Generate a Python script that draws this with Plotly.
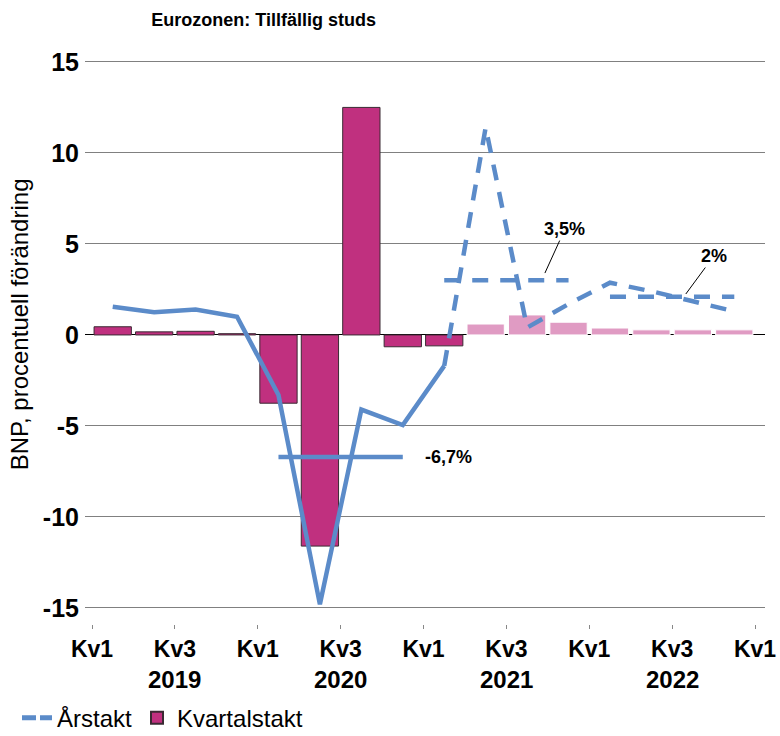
import plotly.graph_objects as go

# ---- data ----
quarters = ["2019Q1", "2019Q2", "2019Q3", "2019Q4",
            "2020Q1", "2020Q2", "2020Q3", "2020Q4",
            "2021Q1", "2021Q2", "2021Q3", "2021Q4",
            "2022Q1", "2022Q2", "2022Q3", "2022Q4"]
qoq_actual = [0.45, 0.17, 0.2, 0.07, -3.75, -11.6, 12.5, -0.65, -0.6]
qoq_forecast = [0.6, 1.1, 0.7, 0.38, 0.28, 0.28, 0.28]
yoy_actual = [1.55, 1.25, 1.4, 1.0, -3.3, -14.8, -4.1, -4.95, -1.7]
yoy_forecast = [-1.7, 11.4, 0.4, 1.7, 2.87, 2.4, 1.85, 1.3]
annual_levels = [-6.7, 3.0, 2.1]
annual_labels = ["-6,7%", "3,5%", "2%"]
annual_first_q = [4, 8, 12]
tick_vals = [-0.5, 1.5, 3.5, 5.5, 7.5, 9.5, 11.5, 13.5, 15.5]
tick_text = ["Kv1", "Kv3", "Kv1", "Kv3", "Kv1", "Kv3", "Kv1", "Kv3", "Kv1"]
years = ["2019", "2020", "2021", "2022"]
year_pos = [1.5, 5.5, 9.5, 13.5]

MAGENTA = "#C0307F"
PINK = "#E09BC3"
BLUE = "#5B8BC9"
DASH = "16px,12px"

idx = list(range(len(quarters)))
n_act = len(qoq_actual)

fig = go.Figure()

fig.add_trace(go.Bar(
    x=idx[:n_act], y=qoq_actual, width=0.9, name="Kvartalstakt",
    marker=dict(color=MAGENTA, line=dict(color="#3a2a33", width=1)),
    showlegend=False))
fig.add_trace(go.Bar(
    x=idx[n_act:], y=qoq_forecast, width=0.9, name="Kvartalstakt prognos",
    marker=dict(color=PINK, line=dict(color="#ffffff", width=1)),
    showlegend=False))

fig.add_trace(go.Scatter(
    x=idx[:len(yoy_actual)], y=yoy_actual, mode="lines",
    line=dict(color=BLUE, width=4.5), showlegend=False))
fig.add_trace(go.Scatter(
    x=idx[n_act - 1:], y=yoy_forecast, mode="lines",
    line=dict(color=BLUE, width=4.5, dash=DASH), showlegend=False))

for k, (lvl, q0) in enumerate(zip(annual_levels, annual_first_q)):
    fig.add_trace(go.Scatter(
        x=[q0, q0 + 3], y=[lvl, lvl], mode="lines",
        line=dict(color=BLUE, width=4.5, dash="solid" if k == 0 else DASH),
        showlegend=False))

# legend entries
fig.add_trace(go.Scatter(x=[None], y=[None], mode="lines", name="Årstakt",
                         line=dict(color=BLUE, width=4.5, dash="14px,4px")))
fig.add_trace(go.Bar(x=[None], y=[None], name="Kvartalstakt",
                     marker=dict(color=MAGENTA, line=dict(color="#3a2a33", width=1))))

annotations = []
annotations.append(dict(x=8.1, y=annual_levels[0], text="<b>" + annual_labels[0] + "</b>",
                        showarrow=False, font=dict(size=18, color="black"),
                        xanchor="center", yanchor="middle"))
annotations.append(dict(x=10.43, y=3.4, ax=20, ay=-44, text="<b>" + annual_labels[1] + "</b>",
                        showarrow=True, arrowhead=0, arrowwidth=1, arrowcolor="black",
                        standoff=0, font=dict(size=18, color="black")))
annotations.append(dict(x=13.83, y=2.25, ax=28, ay=-38, text="<b>" + annual_labels[2] + "</b>",
                        showarrow=True, arrowhead=0, arrowwidth=1, arrowcolor="black",
                        standoff=0, font=dict(size=18, color="black")))
for yr, xp in zip(years, year_pos):
    annotations.append(dict(x=xp, y=-0.098, xref="x", yref="paper", text="<b>" + yr + "</b>",
                            showarrow=False, font=dict(size=24, color="black"),
                            xanchor="center", yanchor="middle"))
annotations.append(dict(x=-0.097, y=0.525, xref="paper", yref="paper",
                        text="BNP, procentuell förändring", textangle=-90,
                        showarrow=False, font=dict(size=24, color="black"),
                        xanchor="center", yanchor="middle"))

fig.update_layout(
    width=780, height=736,
    margin=dict(l=85, r=15, t=53, b=112, autoexpand=False),
    paper_bgcolor="white", plot_bgcolor="white",
    font=dict(family="Liberation Sans, Arial, sans-serif", color="black"),
    title=dict(text="<b>Eurozonen: Tillfällig studs</b>", x=0.338, xanchor="center",
               y=1 - 20 / 736, yanchor="middle",
               font=dict(family="Liberation Sans, Arial, sans-serif",
                         size=18, color="black")),
    barmode="overlay",
    showlegend=True,
    legend=dict(orientation="h", x=-0.1, y=-0.165, xanchor="left", yanchor="middle",
                font=dict(size=24, color="black"), itemsizing="constant",
                tracegroupgap=0, itemwidth=30),
    annotations=annotations,
)

fig.update_xaxes(range=[-0.669, 15.741], tickmode="array", tickvals=tick_vals,
                 ticktext=["<b>" + t + "</b>" for t in tick_text],
                 tickfont=dict(size=23, color="black"),
                 ticks="outside", ticklen=4, tickcolor="#888888", tickwidth=1,
                 showgrid=False, zeroline=False, showline=False, automargin=False)
fig.update_yaxes(range=[-15.88, 15.49], tickmode="array",
                 tickvals=[-15, -10, -5, 0, 5, 10, 15],
                 ticktext=["<b>%d</b>" % v for v in [-15, -10, -5, 0, 5, 10, 15]],
                 tickfont=dict(size=25, color="black"), ticklabelstandoff=5,
                 showgrid=True, gridcolor="#808080", gridwidth=1,
                 zeroline=True, zerolinecolor="black", zerolinewidth=1,
                 showline=False, ticks="", automargin=False)

fig.write_html("out.html", config={"displayModeBar": False},
               post_script="document.body.style.margin='0';")
